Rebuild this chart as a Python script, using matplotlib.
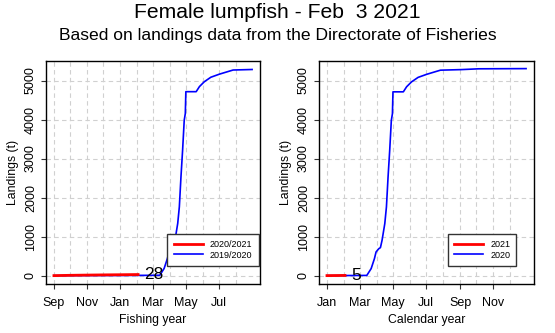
#!/usr/bin/env python3

import numpy as np
import pandas as pd
import matplotlib
matplotlib.use('Agg')
import matplotlib.pyplot as plt

plt.rcParams['font.family'] = ['Liberation Sans', 'DejaVu Sans']

#
# Cumulative landings (tonnes)
#

# calendar year 2020
cal2020_dates = ['2020-01-01', '2020-03-14', '2020-03-22', '2020-03-28', '2020-03-31',
                 '2020-04-05', '2020-04-08', '2020-04-11', '2020-04-16', '2020-04-19',
                 '2020-04-22', '2020-04-25', '2020-04-28', '2020-04-30', '2020-05-01',
                 '2020-05-20', '2020-05-26', '2020-06-04', '2020-06-16', '2020-07-02',
                 '2020-07-27', '2020-09-04', '2020-10-05', '2020-12-31']
cal2020_vals = [0, 5, 180, 435, 607,
                690, 718, 906, 1333, 1760,
                2530, 3210, 3980, 4150, 4710,
                4710, 4840, 4965, 5080, 5160,
                5265, 5280, 5300, 5305]

# calendar year 2021 so far
cal2021_dates = ['2021-01-01', '2021-01-15', '2021-02-03']
cal2021_vals = [0, 2, 5]

# fishing year 2019/2020: autumn 2019 part, the rest follows the 2020 calendar
fall2019_dates = ['2019-09-01', '2019-10-15', '2019-12-31']
fall2019_vals = [0, 2, 4]

# fishing year 2020/2021
fy2021_dates = ['2020-09-01', '2020-10-01', '2020-11-01', '2020-12-01',
                '2021-01-01', '2021-01-15', '2021-02-03']
fy2021_vals = [0, 8, 14, 19, 23, 25, 28]

title = 'Female lumpfish - Feb  3 2021'
subtitle = 'Based on landings data from the Directorate of Fisheries'


def days_from(dates, start):
    return (pd.to_datetime(dates) - pd.Timestamp(start)).days.values


# fishing year 2019/2020 = autumn 2019 + Jan-Aug 2020
cal2020_d = pd.to_datetime(cal2020_dates)
sel = cal2020_d <= pd.Timestamp('2020-08-31')
fy2020_x = np.concatenate([days_from(fall2019_dates, '2019-09-01'),
                           days_from(cal2020_d[sel], '2019-09-01'),
                           [days_from(['2020-08-31'], '2019-09-01')[0]]])
fy2020_y = np.concatenate([fall2019_vals,
                           np.array(cal2020_vals)[sel] + fall2019_vals[-1],
                           [np.interp(days_from(['2020-08-31'], '2020-01-01')[0],
                                      days_from(cal2020_dates, '2020-01-01'),
                                      cal2020_vals) + fall2019_vals[-1]]])
fy2021_x = days_from(fy2021_dates, '2020-09-01')

cal2020_x = days_from(cal2020_dates, '2020-01-01')
cal2021_x = days_from(cal2021_dates, '2021-01-01')


def month_axis(ax, start):
    # ticks every second month, grid every month
    firsts = pd.date_range(start, periods=12, freq='MS')
    pos = (firsts - pd.Timestamp(start)).days.values
    ax.set_xticks(pos[::2])
    ax.set_xticklabels([d.strftime('%b') for d in firsts[::2]])
    ax.set_xticks(pos, minor=True)
    ax.tick_params(axis='x', which='minor', length=0)
    ax.grid(True, which='both', axis='x', color='#d0d0d0', ls=(0, (4, 3)), lw=0.8)
    ax.grid(True, which='major', axis='y', color='#d0d0d0', ls=(0, (4, 3)), lw=0.8)
    ax.set_axisbelow(True)


def style_axes(ax):
    ax.set_xlim(-14.6, 379.6)
    ax.set_ylim(-215, 5500)
    ax.set_yticks(np.arange(0, 5001, 1000))
    for lab in ax.get_yticklabels():
        lab.set_rotation(90)
        lab.set_va('center')
    ax.tick_params(axis='both', labelsize=9, length=3.5, width=0.8, color='#333333')
    ax.tick_params(axis='x', pad=5.5)
    ax.tick_params(axis='y', pad=3)
    for s in ax.spines.values():
        s.set_linewidth(1.0)
    ax.set_ylabel('Landings (t)', fontsize=8.8, labelpad=4)


def add_legend(ax, anchor):
    h, l = ax.get_legend_handles_labels()
    ax.legend(h[::-1], l[::-1], loc='lower right', bbox_to_anchor=anchor,
              fontsize=6.5, frameon=True, fancybox=False, edgecolor='#333333',
              framealpha=1, borderaxespad=0, handlelength=3.2, borderpad=0.7,
              labelspacing=0.2)


fig = plt.figure(figsize=(5.55, 3.33), dpi=100)
ax0 = fig.add_axes([0.0829, 0.1471, 0.3856, 0.6697])
ax1 = fig.add_axes([0.5748, 0.1471, 0.3874, 0.6697])

# fishing year panel
month_axis(ax0, '2019-09-01')
ax0.plot(fy2020_x, fy2020_y, color='#0000ff', lw=1.2, label='2019/2020')
ax0.plot(fy2021_x, fy2021_vals, color='#ff0000', lw=2.0, label='2020/2021')
ax0.annotate('{}'.format(fy2021_vals[-1]), (fy2021_x[-1], fy2021_vals[-1]),
             xytext=(6, 0), textcoords='offset pixels', ha='left', va='center',
             fontsize=12.5)
style_axes(ax0)
ax0.set_xlabel('Fishing year', fontsize=8.8, labelpad=4)
add_legend(ax0, (0.994, 0.081))

# calendar year panel
month_axis(ax1, '2020-01-01')
ax1.plot(cal2020_x, cal2020_vals, color='#0000ff', lw=1.2, label='2020')
ax1.plot(cal2021_x, cal2021_vals, color='#ff0000', lw=2.0, label='2021')
ax1.annotate('{}'.format(cal2021_vals[-1]), (cal2021_x[-1], cal2021_vals[-1]),
             xytext=(6, 0), textcoords='offset pixels', ha='left', va='center',
             fontsize=12.5)
style_axes(ax1)
ax1.set_xlabel('Calendar year', fontsize=8.8, labelpad=4)
add_legend(ax1, (0.918, 0.081))

fig.text(0.5, 0.962, title, ha='center', va='center', fontsize=15.2)
fig.text(0.5, 0.892, subtitle, ha='center', va='center', fontsize=12.6)

fig.savefig('out.png', dpi=100)
